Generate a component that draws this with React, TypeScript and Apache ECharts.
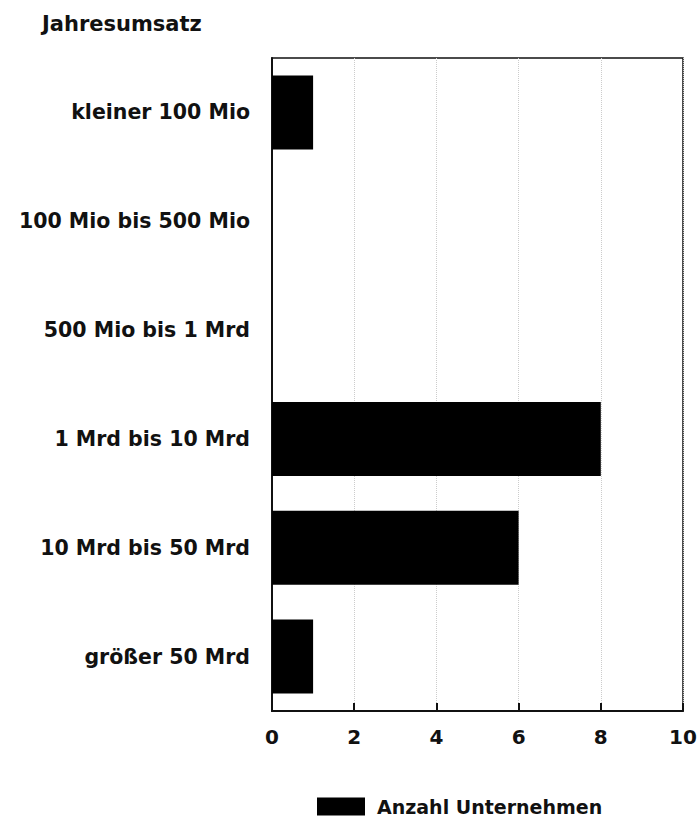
import React, { useEffect, useRef } from "react";
import * as echarts from "echarts";

const categories = [
  "kleiner 100 Mio",
  "100 Mio bis 500 Mio",
  "500 Mio bis 1 Mrd",
  "1 Mrd bis 10 Mrd",
  "10 Mrd bis 50 Mrd",
  "größer 50 Mrd",
];
const values = [1, 0, 0, 8, 6, 1];
const seriesName = "Anzahl Unternehmen";
const axisTitle = "Jahresumsatz";
const xMin = 0;
const xMax = 10;
const xInterval = 2;

const FONT = "'DejaVu Sans', sans-serif";

export default function App() {
  const ref = useRef<HTMLDivElement>(null);
  useEffect(() => {
    document.body.style.margin = "0";
    const chart = echarts.init(ref.current!, null, { renderer: "svg" });
    chart.setOption({
      animation: false,
      backgroundColor: "#fff",
      title: {
        text: axisTitle,
        left: 37,
        top: 8,
        textStyle: { fontFamily: FONT, fontWeight: "bold", fontSize: 21, color: "#111" },
      },
      legend: {
        data: [seriesName],
        left: 312,
        top: 792,
        icon: "rect",
        itemWidth: 48,
        itemHeight: 18,
        textStyle: {
          fontFamily: FONT,
          fontWeight: "bold",
          fontSize: 19,
          color: "#111",
          padding: [0, 0, 0, 7],
        },
      },
      grid: {
        left: 272,
        top: 58,
        width: 411,
        height: 653,
        show: true,
        borderColor: "#111",
        borderWidth: 1.5,
        backgroundColor: "transparent",
      },
      xAxis: {
        type: "value",
        min: xMin,
        max: xMax,
        interval: xInterval,
        axisLine: { show: true, lineStyle: { color: "#111", width: 2 } },
        axisTick: { show: true, inside: true, length: 8, lineStyle: { color: "#111", width: 2 } },
        axisLabel: {
          fontFamily: FONT,
          fontWeight: "bold",
          fontSize: 20,
          color: "#111",
          margin: 16,
        },
        splitLine: { show: true, lineStyle: { color: "#cccccc", type: "dotted", width: 1 } },
      },
      yAxis: {
        type: "category",
        data: categories,
        inverse: true,
        axisLine: { show: true, lineStyle: { color: "#111", width: 2 } },
        axisTick: { show: false },
        axisLabel: {
          fontFamily: FONT,
          fontWeight: "bold",
          fontSize: 20.5,
          color: "#111",
          margin: 22,
        },
        splitLine: { show: false },
      },
      series: [
        {
          name: seriesName,
          type: "bar",
          data: values,
          barWidth: "68%",
          itemStyle: { color: "#000" },
        },
      ],
    });
    return () => chart.dispose();
  }, []);
  return (
    <div
      ref={ref}
      style={{ position: "absolute", left: 0, top: 0, width: 700, height: 823 }}
    />
  );
}
